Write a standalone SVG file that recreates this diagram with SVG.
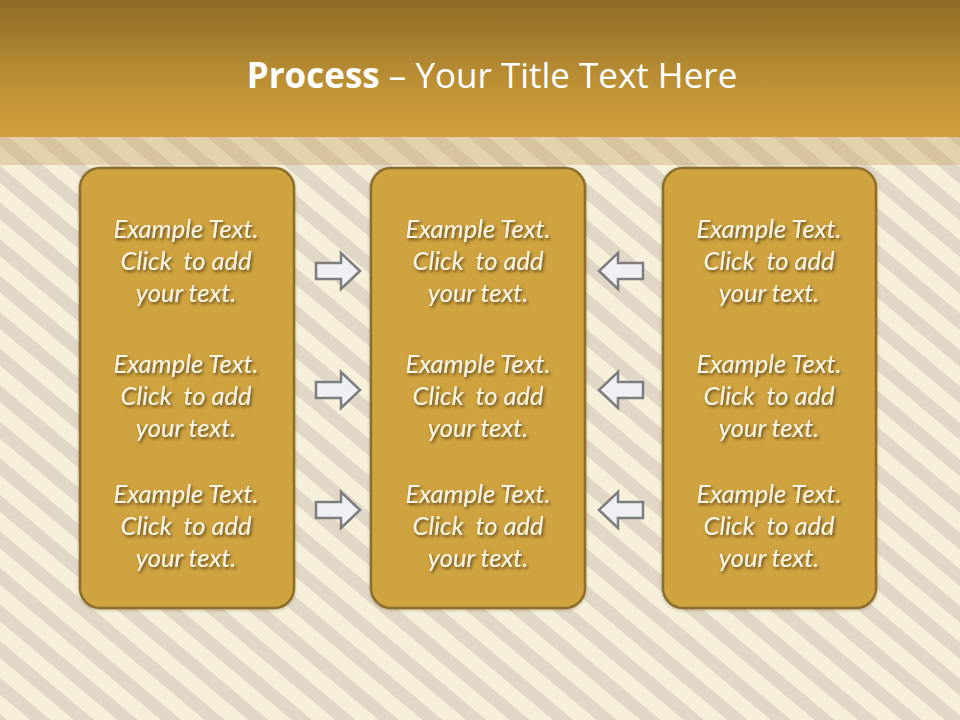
<svg xmlns="http://www.w3.org/2000/svg" width="960" height="720" viewBox="0 0 960 720">
<defs>
<linearGradient id="hdr" x1="0" y1="0" x2="0" y2="1">
<stop offset="0" stop-color="#8e6b27"/>
<stop offset="0.55" stop-color="#b98d33"/>
<stop offset="1" stop-color="#d09f3b"/>
</linearGradient>
<pattern id="stripes" patternUnits="userSpaceOnUse" width="28" height="28" patternTransform="rotate(-50)">
<rect width="28" height="28" fill="#f6f0db"/>
<rect width="13" height="28" fill="#e1d7c6"/>
</pattern>
<filter id="sh" x="-10%" y="-20%" width="130%" height="150%">
<feDropShadow dx="1.5" dy="2" stdDeviation="1.5" flood-color="#3a2a08" flood-opacity="0.75"/>
</filter>
<filter id="bsh" x="-10%" y="-10%" width="120%" height="120%">
<feDropShadow dx="0" dy="1" stdDeviation="1.5" flood-color="#5a4518" flood-opacity="0.35"/>
</filter>
</defs>
<style>
.box{fill:#cfa33f;stroke:#8c6d2b;stroke-width:2.5}
.t{font-family:Lato,"Open Sans",sans-serif;font-style:italic;font-size:25.5px;fill:#fbf6e6;text-anchor:middle;filter:url(#sh);white-space:pre}
.arr{fill:#efeff5;stroke:#7d7d7d;stroke-width:2.5;stroke-linejoin:miter}
.title{font-family:"Open Sans","Liberation Sans",sans-serif;font-size:35px;fill:#ffffff;text-anchor:middle}
</style>
<rect width="960" height="720" fill="url(#stripes)"/>
<rect y="137" width="960" height="28" fill="#c9a563" opacity="0.4"/>
<rect width="960" height="137" fill="url(#hdr)"/>
<text class="title" x="492" y="88"><tspan font-weight="bold">Process</tspan> – Your Title Text Here</text>

<g id="box-left">
<rect class="box" x="80" y="168" width="214" height="440" rx="20" filter="url(#bsh)"/>
<text class="t" x="186" y="238">Example Text.</text>
<text class="t" x="186" y="270" xml:space="preserve">Click  to add</text>
<text class="t" x="186" y="302">your text.</text>
<text class="t" x="186" y="373">Example Text.</text>
<text class="t" x="186" y="405" xml:space="preserve">Click  to add</text>
<text class="t" x="186" y="437">your text.</text>
<text class="t" x="186" y="503">Example Text.</text>
<text class="t" x="186" y="535" xml:space="preserve">Click  to add</text>
<text class="t" x="186" y="567">your text.</text>
</g>
<g id="box-middle">
<rect class="box" x="371" y="168" width="214" height="440" rx="20" filter="url(#bsh)"/>
<text class="t" x="478" y="238">Example Text.</text>
<text class="t" x="478" y="270" xml:space="preserve">Click  to add</text>
<text class="t" x="478" y="302">your text.</text>
<text class="t" x="478" y="373">Example Text.</text>
<text class="t" x="478" y="405" xml:space="preserve">Click  to add</text>
<text class="t" x="478" y="437">your text.</text>
<text class="t" x="478" y="503">Example Text.</text>
<text class="t" x="478" y="535" xml:space="preserve">Click  to add</text>
<text class="t" x="478" y="567">your text.</text>
</g>
<g id="box-right">
<rect class="box" x="663" y="168" width="213" height="440" rx="20" filter="url(#bsh)"/>
<text class="t" x="769" y="238">Example Text.</text>
<text class="t" x="769" y="270" xml:space="preserve">Click  to add</text>
<text class="t" x="769" y="302">your text.</text>
<text class="t" x="769" y="373">Example Text.</text>
<text class="t" x="769" y="405" xml:space="preserve">Click  to add</text>
<text class="t" x="769" y="437">your text.</text>
<text class="t" x="769" y="503">Example Text.</text>
<text class="t" x="769" y="535" xml:space="preserve">Click  to add</text>
<text class="t" x="769" y="567">your text.</text>
</g>
<g id="connectors">
<path class="arr" d="M316 263 H341 V253 L360 271 L341 289 V279 H316 Z"/>
<path class="arr" d="M316 382 H341 V372 L360 390 L341 408 V398 H316 Z"/>
<path class="arr" d="M316 502 H341 V492 L360 510 L341 528 V518 H316 Z"/>
<path class="arr" d="M643 263 H618 V253 L599 271 L618 289 V279 H643 Z"/>
<path class="arr" d="M643 382 H618 V372 L599 390 L618 408 V398 H643 Z"/>
<path class="arr" d="M643 502 H618 V492 L599 510 L618 528 V518 H643 Z"/>
</g>
</svg>
